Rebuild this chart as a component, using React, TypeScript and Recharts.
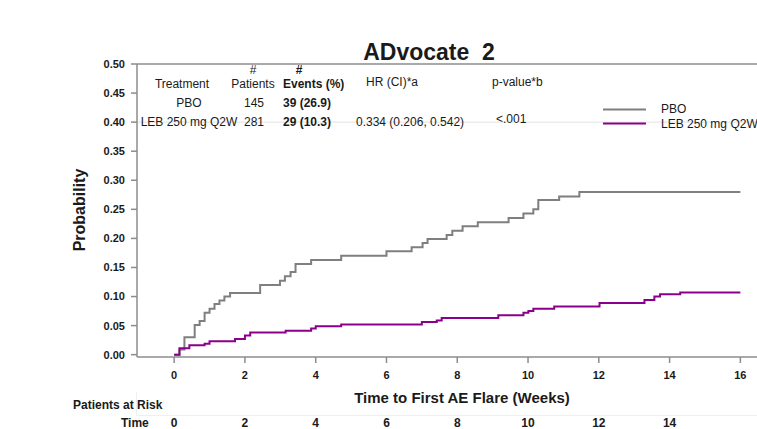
import React from 'react';
import { LineChart, Line, XAxis, YAxis, ReferenceLine, Legend } from 'recharts';

// Kaplan-Meier style cumulative probability of first AE flare
const pboWeeks = [0, 0.15, 0.29, 0.58, 0.72, 0.86, 1.0, 1.14, 1.28, 1.42, 1.58, 2.43, 2.99, 3.13, 3.29, 3.43, 3.87, 4.72, 6.0, 6.71, 7.02, 7.16, 7.7, 7.86, 8.15, 8.58, 9.45, 9.87, 10.15, 10.29, 10.88, 11.45, 16.0];
const pboProb = [0, 0.009, 0.03, 0.051, 0.058, 0.072, 0.079, 0.087, 0.093, 0.1, 0.106, 0.12, 0.127, 0.135, 0.142, 0.156, 0.163, 0.17, 0.178, 0.185, 0.192, 0.199, 0.206, 0.213, 0.221, 0.228, 0.235, 0.243, 0.25, 0.266, 0.272, 0.28, 0.28];

const lebWeeks = [0, 0.15, 0.43, 0.86, 1.0, 1.72, 2.0, 2.15, 3.15, 3.87, 4.0, 4.72, 7.0, 7.42, 7.56, 9.16, 9.87, 10.01, 10.15, 10.74, 12.02, 13.29, 13.57, 13.73, 14.3, 16.0];
const lebProb = [0, 0.011, 0.016, 0.019, 0.023, 0.027, 0.033, 0.038, 0.041, 0.045, 0.049, 0.052, 0.056, 0.059, 0.063, 0.068, 0.072, 0.075, 0.079, 0.083, 0.089, 0.094, 0.1, 0.104, 0.107, 0.107];

const seriesNames = ['PBO', 'LEB 250 mg Q2W'];
const xTicks = [0, 2, 4, 6, 8, 10, 12, 14, 16];
const riskTimes = [0, 2, 4, 6, 8, 10, 12, 14];
const yTicks = [0, 0.05, 0.1, 0.15, 0.2, 0.25, 0.3, 0.35, 0.4, 0.45, 0.5];

const patients = ['145', '281'];
const events = ['39 (26.9)', '29 (10.3)'];
const hazard = ['', '0.334 (0.206, 0.542)'];
const pValues = ['', '<.001'];

const FONT = '"Liberation Sans", Arial, sans-serif';
const AXIS = '#8c8c8c';
const INK = '#1a1a1a';

const toPoints = (weeks: number[], probs: number[]) => weeks.map((t, i) => ({ t, p: probs[i] }));

function KmLegend(props: any) {
  // keep the plotting order (PBO first), recharts sorts by name otherwise
  const items = [...(props.payload || [])].sort(
    (a: any, b: any) => seriesNames.indexOf(a.value) - seriesNames.indexOf(b.value)
  );
  return (
    <svg width={160} height={36} style={{ overflow: 'visible' }}>
      {items.map((it: any, i: number) => (
        <g key={it.value}>
          <line x1={3} x2={46} y1={9.5 + i * 14} y2={9.5 + i * 14} stroke={it.color} strokeWidth={2} />
          <text x={61} y={12.5 + i * 15.5} fontSize={12} fontFamily={FONT} fill={INK}>{it.value}</text>
        </g>
      ))}
    </svg>
  );
}

export default function App() {
  const tickStyle = { fontSize: 11, fontWeight: 'bold', fill: INK, fontFamily: FONT };
  const rowY = [106.5, 126];

  return (
    <div style={{ position: 'absolute', left: 0, top: 0, width: 757, height: 429, overflow: 'hidden', background: '#fff' }}>
      <LineChart width={757} height={429} margin={{ top: 64, right: 0, bottom: 0, left: 0 }}>
        <XAxis
          dataKey="t"
          type="number"
          domain={[-1.05, 16.47]}
          ticks={xTicks}
          allowDataOverflow
          height={56}
          tickSize={6}
          tickMargin={8}
          stroke={AXIS}
          axisLine={{ stroke: AXIS, strokeWidth: 1.5 }}
          tickLine={{ stroke: AXIS, strokeWidth: 1.5 }}
          tick={tickStyle}
        />
        <XAxis
          xAxisId="risk"
          dataKey="t"
          type="number"
          domain={[-1.05, 16.47]}
          ticks={riskTimes}
          allowDataOverflow
          height={16}
          tickSize={0}
          tickMargin={5}
          axisLine={false}
          tickLine={false}
          tick={{ ...tickStyle, fontSize: 12 }}
        />
        <YAxis
          type="number"
          domain={[-0.004, 0.5]}
          ticks={yTicks}
          allowDataOverflow
          width={137}
          tickSize={6}
          tickMargin={6}
          axisLine={{ stroke: AXIS, strokeWidth: 1.5 }}
          tickLine={{ stroke: AXIS, strokeWidth: 1.5 }}
          tick={tickStyle}
          tickFormatter={(v: number) => v.toFixed(2)}
        />
        <ReferenceLine y={0.5} stroke={AXIS} strokeWidth={1.5} />
        <ReferenceLine y={0.4} stroke="#e2e2e2" strokeWidth={1} />
        <Legend
          layout="vertical"
          align="center"
          verticalAlign="middle"
          content={<KmLegend />}
          wrapperStyle={{ position: 'absolute', left: 600, top: 100, width: 160, height: 36 }}
        />
        <Line
          data={toPoints(pboWeeks, pboProb)}
          dataKey="p"
          name={seriesNames[0]}
          type="stepAfter"
          stroke="#7f7f7f"
          strokeWidth={2}
          dot={false}
          isAnimationActive={false}
        />
        <Line
          data={toPoints(lebWeeks, lebProb)}
          dataKey="p"
          name={seriesNames[1]}
          type="stepAfter"
          stroke="#8b008b"
          strokeWidth={2}
          dot={false}
          isAnimationActive={false}
        />
      </LineChart>

      {/* title, summary table and axis titles */}
      <svg width={757} height={429} style={{ position: 'absolute', left: 0, top: 0, pointerEvents: 'none' }} fontFamily={FONT} fill={INK}>
        <text x={429} y={60} textAnchor="middle" fontSize={23} fontWeight="bold" style={{ whiteSpace: 'pre' }}>{'ADvocate  2'}</text>

        <text x={253} y={74} textAnchor="middle" fontSize={12}>#</text>
        <text x={299} y={74} textAnchor="middle" fontSize={12} fontWeight="bold">#</text>
        <text x={182} y={87.5} textAnchor="middle" fontSize={12}>Treatment</text>
        <text x={253} y={87.5} textAnchor="middle" fontSize={12}>Patients</text>
        <text x={283} y={88} fontSize={12} fontWeight="bold">Events (%)</text>
        <text x={366} y={86} fontSize={12}>HR (CI)*a</text>
        <text x={492} y={86} fontSize={12}>p-value*b</text>

        {seriesNames.map((tr, i) => (
          <g key={tr}>
            <text x={189} y={rowY[i]} textAnchor="middle" fontSize={12}>{tr}</text>
            <text x={254} y={rowY[i]} textAnchor="middle" fontSize={12}>{patients[i]}</text>
            <text x={283} y={rowY[i]} fontSize={12} fontWeight="bold">{events[i]}</text>
            <text x={356} y={rowY[i]} fontSize={12}>{hazard[i]}</text>
            <text x={496} y={rowY[i] - 3} fontSize={12}>{pValues[i]}</text>
          </g>
        ))}

        <text transform="translate(85,210) rotate(-90)" textAnchor="middle" fontSize={16} fontWeight="bold">Probability</text>
        <text x={462} y={402.5} textAnchor="middle" fontSize={15} fontWeight="bold">Time to First AE Flare (Weeks)</text>
        <text x={73} y={408.5} fontSize={12} fontWeight="bold">Patients at Risk</text>
        <text x={121} y={426.5} fontSize={12} fontWeight="bold">Time</text>
        <line x1={137} x2={757} y1={415.5} y2={415.5} stroke="#efefef" strokeWidth={1} />
        <line x1={136.5} x2={136.5} y1={392} y2={415.5} stroke="#efefef" strokeWidth={1} />
      </svg>
    </div>
  );
}
